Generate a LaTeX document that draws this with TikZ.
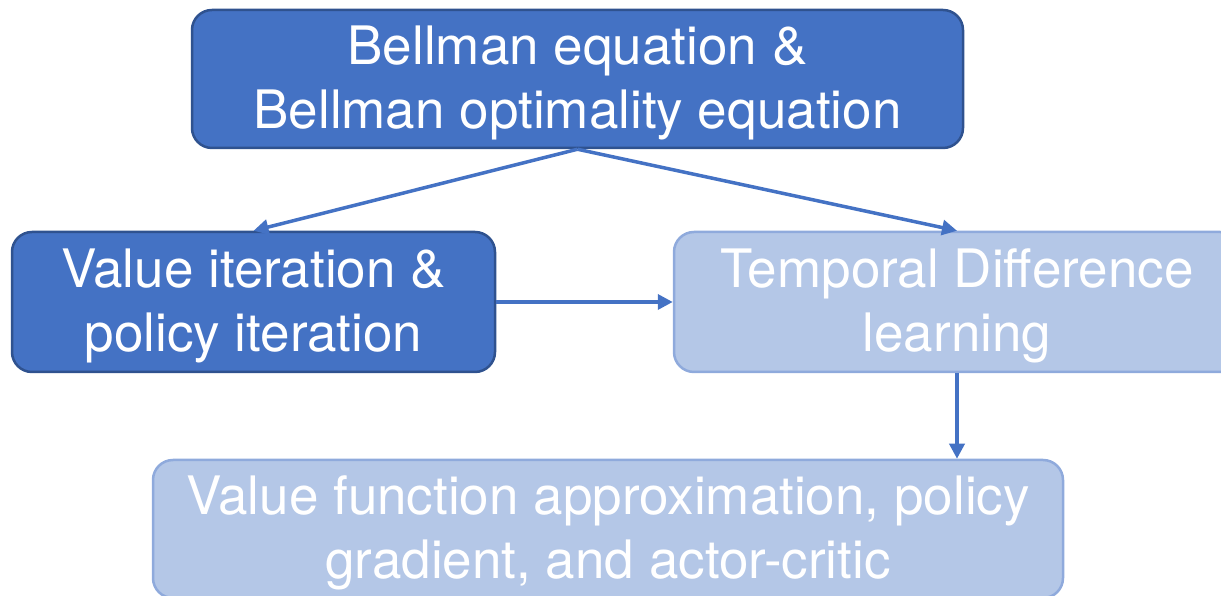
\documentclass[tikz,border=0pt]{standalone}
\usepackage{fontspec}
\setmainfont{TeX Gyre Heros}
\usepackage{xcolor}
\usetikzlibrary{positioning,calc,arrows.meta}

\definecolor{darkblue}{HTML}{4472C4}
\definecolor{darkedge}{HTML}{2F528F}
\definecolor{lightblue}{HTML}{B4C7E7}
\definecolor{lightedge}{HTML}{8FAADC}

\tikzset{
    box/.style={rounded corners=20pt, inner sep=0pt, align=center, text=white,
        font=\fontsize{53}{64}\selectfont, line width=2.5pt, text depth=4pt},
    darkbox/.style={box, fill=darkblue, draw=darkedge},
    lightbox/.style={box, fill=lightblue, draw=lightedge},
    flow/.style={draw=darkblue, line width=3.5pt, -{Triangle[length=15pt,width=15pt]}}
}

\begin{document}
\begin{tikzpicture}[x=1pt,y=1pt]
    \useasboundingbox (0,0) rectangle (1221,596);
    \clip (0,0) rectangle (1221,596);

    % Boxes
    \node[darkbox, minimum width=771pt, minimum height=138pt] (bellman) at (577.5,517)
        {Bellman equation \&\\Bellman optimality equation};
    \node[darkbox, minimum width=483pt, minimum height=140pt] (vipi) at (253.5,294)
        {Value iteration \&\\policy iteration};
    \node[lightbox, minimum width=566pt, minimum height=140pt] (td) at (957,294)
        {Temporal Difference\\learning};
    \node[lightbox, minimum width=910pt, minimum height=138pt] (vfa) at (608,67)
        {Value function approximation, policy\\gradient, and actor-critic};

    % Arrows
    \draw[flow] (bellman.south) -- (vipi.north);
    \draw[flow] (bellman.south) -- (td.north);
    \draw[flow] (vipi.east) -- (td.west);
    \draw[flow] (td.south) -- (td.south |- vfa.north);
\end{tikzpicture}
\end{document}
